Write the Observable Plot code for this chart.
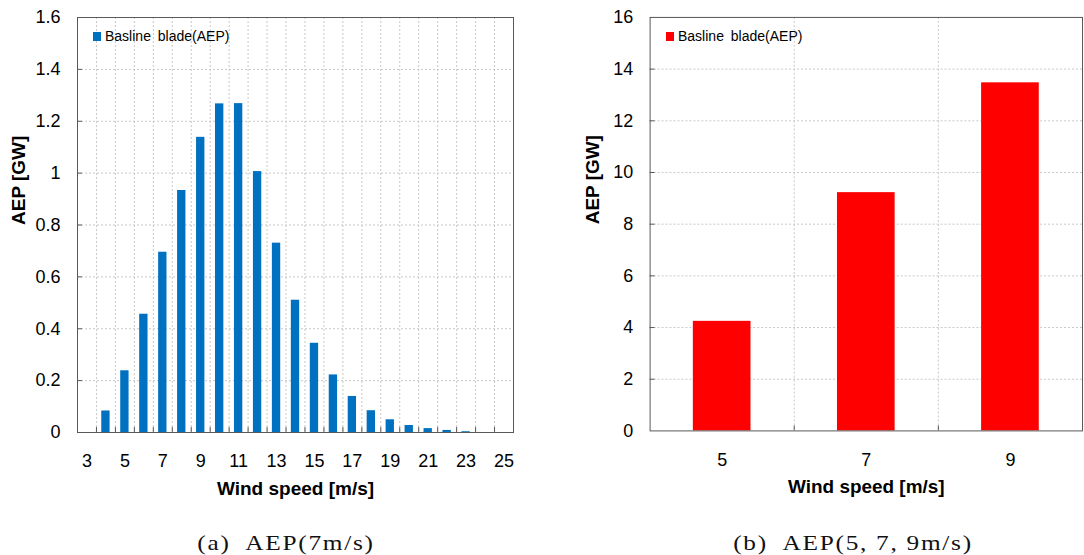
<!DOCTYPE html>
<html>
<head>
<meta charset="utf-8">
<script src="https://cdn.jsdelivr.net/npm/d3@7"></script>
<script src="https://cdn.jsdelivr.net/npm/@observablehq/plot@0.6"></script>
<style>
  html, body { margin: 0; padding: 0; background: #fff; }
  #page { position: relative; width: 1084px; height: 555px; overflow: hidden; background: #fff; font-family: "Liberation Sans", Arial, sans-serif; }
  .chart { position: absolute; top: 0; }
  .legend { position: absolute; font-size: 14px; word-spacing: 3px; color: #000; display: flex; align-items: center; white-space: pre; }
  .legend .sw { width: 8px; height: 9px; margin-right: 4px; }
  .caption { position: absolute; font-family: "Liberation Serif", "DejaVu Serif", serif; font-size: 22px; letter-spacing: 1.5px; line-height: 23px; color: #111; transform: translateX(-50%) scaleX(1.15); white-space: pre; }
</style>
</head>
<body>
<div id="page">
  <div id="left" class="chart" style="left:0px"></div>
  <div id="right" class="chart" style="left:540px"></div>
  <div class="legend" style="left:93px; top:28px"><div class="sw" style="background:#0070C0"></div>Basline blade(AEP)</div>
  <div class="legend" style="left:666px; top:28px"><div class="sw" style="background:#FF0000"></div>Basline blade(AEP)</div>
  <div class="caption" style="left:286px; top:531px">(a)  AEP(7m/s)</div>
  <div class="caption" style="left:853px; top:531px">(b)  AEP(5, 7, 9m/s)</div>
</div>
<script>
// ---- Data ----
const speedsA = [3,4,5,6,7,8,9,10,11,12,13,14,15,16,17,18,19,20,21,22,23,24,25];
const aepA    = [0,0.083,0.238,0.456,0.695,0.933,1.138,1.267,1.268,1.006,0.73,0.51,0.344,0.222,0.139,0.084,0.049,0.027,0.015,0.008,0.003,0,0];
const xLabelsA = [3,5,7,9,11,13,15,17,19,21,23,25];
const yTicksA = [0,0.2,0.4,0.6,0.8,1,1.2,1.4,1.6];

const speedsB = [5,7,9];
const aepB    = [4.24,9.22,13.47];
const yTicksB = [0,2,4,6,8,10,12,14,16];

const xTitle = "Wind speed [m/s]";
const yTitle = "AEP [GW]";

// ---- helpers ----
const dataA = speedsA.map((s,i) => ({speed: s, aep: aepA[i]}));
const dataB = speedsB.map((s,i) => ({speed: s, aep: aepB[i]}));
const fmt = d => String(+(+d).toFixed(1));

function makeChart({data, cats, step, halfBar, xLabels, yTicks, yMax, color, width, marginLeft, marginRight, titleDx}) {
  const height = 510, marginTop = 17, marginBottom = 78;
  const plotW = width - marginLeft - marginRight;
  const plotH = height - marginTop - marginBottom;
  const lo = cats[0] - step/2, hi = cats[cats.length-1] + step/2;
  const bounds = [lo, ...d3.pairs(cats).map(([a,b]) => (a+b)/2), hi];
  const inner = bounds.slice(1, -1);
  const gridStyle = {stroke: "#c8c8c8", strokeOpacity: 1, strokeDasharray: "2,2"};
  return Plot.plot({
    width, height, marginLeft, marginRight, marginTop, marginBottom,
    style: {fontFamily: "'Liberation Sans', Arial, sans-serif", fontSize: "18px", color: "#000", background: "transparent"},
    x: {type: "linear", domain: [lo, hi]},
    y: {domain: [0, yMax]},
    marks: [
      Plot.gridY(yTicks.slice(1), gridStyle),
      Plot.gridX(inner, gridStyle),
      Plot.rectY(data, {x1: d => d.speed - halfBar, x2: d => d.speed + halfBar, y: "aep", fill: color}),
      Plot.tickX(inner, {x: d => d, insetTop: plotH - 5, stroke: "#595959"}),
      Plot.tickY(yTicks.slice(1, -1), {y: d => d, insetRight: plotW - 5, stroke: "#595959"}),
      Plot.frame({stroke: "#595959", strokeWidth: 1}),
      Plot.axisY(yTicks, {tickSize: 0, tickPadding: 17, fontSize: 18, tickFormat: fmt, label: null}),
      Plot.axisX(xLabels, {tickSize: 0, tickPadding: 22, fontSize: 18, tickFormat: d => String(d), label: null}),
      Plot.text([xTitle], {frameAnchor: "bottom", dy: 56, lineAnchor: "middle", fontWeight: "bold", fontSize: 19, fill: "#000"}),
      Plot.text([yTitle], {frameAnchor: "left", dx: titleDx, rotate: -90, lineAnchor: "middle", fontWeight: "bold", fontSize: 19, fill: "#000"})
    ]
  });
}

document.getElementById("left").append(makeChart({
  data: dataA, cats: speedsA, step: 1, halfBar: 0.22, xLabels: xLabelsA, yTicks: yTicksA, yMax: 1.6,
  color: "#0070C0", width: 530, marginLeft: 77, marginRight: 17, titleDx: -59
}));
document.getElementById("right").append(makeChart({
  data: dataB, cats: speedsB, step: 2, halfBar: 0.4, xLabels: speedsB, yTicks: yTicksB, yMax: 16,
  color: "#FF0000", width: 546, marginLeft: 110, marginRight: 2, titleDx: -57
}));
</script>
</body>
</html>
